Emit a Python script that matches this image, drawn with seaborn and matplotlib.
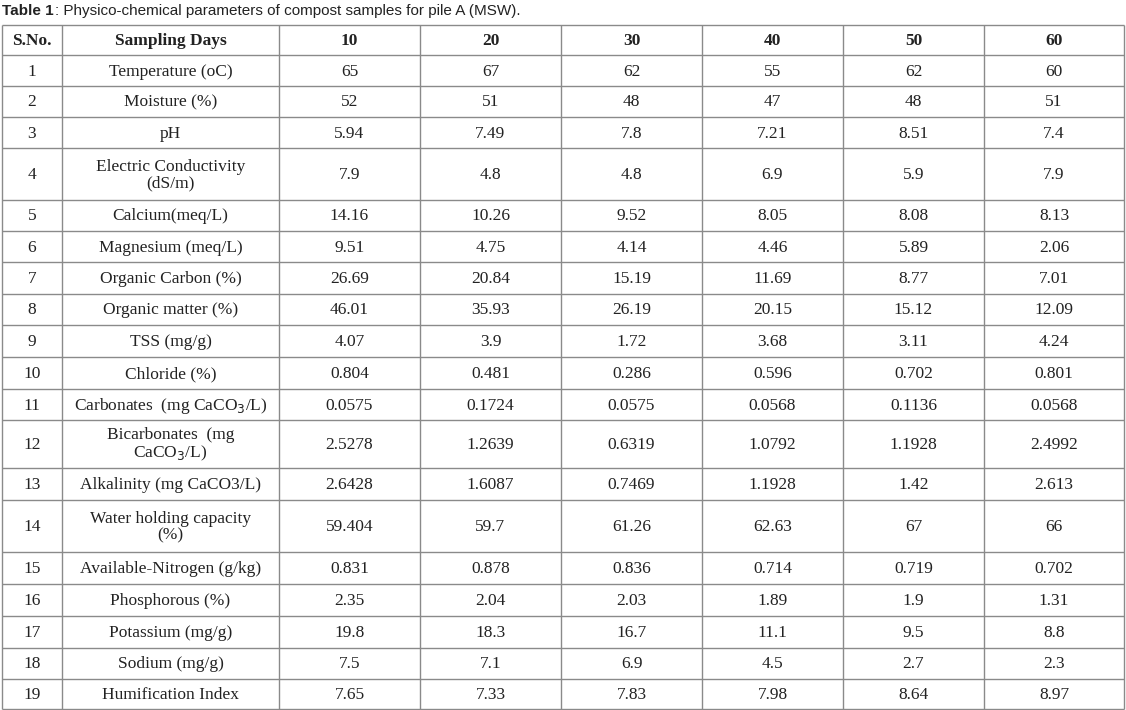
import matplotlib
matplotlib.use("Agg")
import matplotlib.pyplot as plt
import seaborn as sns

sns.set_theme(style="white")
plt.rcParams['font.family'] = ['Liberation Serif', 'DejaVu Serif']

days = ["10", "20", "30", "40", "50", "60"]
params = ["Temperature (oC)", "Moisture (%)", "pH", "Electric Conductivity\n(dS/m)",
          "Calcium(meq/L)", "Magnesium (meq/L)", "Organic Carbon (%)", "Organic matter (%)",
          "TSS (mg/g)", "Chloride (%)", "Carbonates  (mg CaCO$_3$/L)",
          "Bicarbonates  (mg\nCaCO$_3$/L)", "Alkalinity (mg CaCO3/L)",
          "Water holding capacity\n(%)", "Available-Nitrogen (g/kg)", "Phosphorous (%)",
          "Potassium (mg/g)", "Sodium (mg/g)", "Humification Index"]
values = [
    ["65", "67", "62", "55", "62", "60"],
    ["52", "51", "48", "47", "48", "51"],
    ["5.94", "7.49", "7.8", "7.21", "8.51", "7.4"],
    ["7.9", "4.8", "4.8", "6.9", "5.9", "7.9"],
    ["14.16", "10.26", "9.52", "8.05", "8.08", "8.13"],
    ["9.51", "4.75", "4.14", "4.46", "5.89", "2.06"],
    ["26.69", "20.84", "15.19", "11.69", "8.77", "7.01"],
    ["46.01", "35.93", "26.19", "20.15", "15.12", "12.09"],
    ["4.07", "3.9", "1.72", "3.68", "3.11", "4.24"],
    ["0.804", "0.481", "0.286", "0.596", "0.702", "0.801"],
    ["0.0575", "0.1724", "0.0575", "0.0568", "0.1136", "0.0568"],
    ["2.5278", "1.2639", "0.6319", "1.0792", "1.1928", "2.4992"],
    ["2.6428", "1.6087", "0.7469", "1.1928", "1.42", "2.613"],
    ["59.404", "59.7", "61.26", "62.63", "67", "66"],
    ["0.831", "0.878", "0.836", "0.714", "0.719", "0.702"],
    ["2.35", "2.04", "2.03", "1.89", "1.9", "1.31"],
    ["19.8", "18.3", "16.7", "11.1", "9.5", "8.8"],
    ["7.5", "7.1", "6.9", "4.5", "2.7", "2.3"],
    ["7.65", "7.33", "7.83", "7.98", "8.64", "8.97"],
]

W, H = 1126, 710
fig = plt.figure(figsize=(W / 100, H / 100), dpi=100)
ax = fig.add_axes([0, 0, 1, 1])
ax.set_xlim(0, W)
ax.set_ylim(H, 0)
ax.axis("off")

col_x = [2, 62, 279, 420, 561, 702, 843, 984, 1124]
row_y = [25, 55, 86, 117, 148, 200, 231, 262, 294, 325, 357, 389, 420, 468, 500, 552,
         584, 616, 648, 679, 709]

lc = "#8a8a8a"
for x in col_x:
    ax.vlines(x, row_y[0], row_y[-1], color=lc, lw=1)
for y in row_y:
    ax.hlines(y, col_x[0], col_x[-1], color=lc, lw=1)

fs = 12.5
header = ["S.No.", "Sampling Days"] + days
for j, h in enumerate(header):
    ax.text((col_x[j] + col_x[j + 1]) / 2, (row_y[0] + row_y[1]) / 2 + 1, h,
            ha="center", va="center", fontsize=fs, fontweight="bold", color="#222222")

for i, (p, vals) in enumerate(zip(params, values)):
    yc = (row_y[i + 1] + row_y[i + 2]) / 2 + 1
    cells = [str(i + 1), p] + vals
    for j, c in enumerate(cells):
        ax.text((col_x[j] + col_x[j + 1]) / 2, yc, c, ha="center", va="center",
                fontsize=fs, color="#222222", linespacing=1.05)

ax.text(2, 11, "Table 1", ha="left", va="center", fontsize=11, fontweight="bold",
        family="Liberation Sans", color="#222222")
ax.text(55, 11, ": Physico-chemical parameters of compost samples for pile A (MSW).",
        ha="left", va="center", fontsize=11, family="Liberation Sans", color="#222222")

fig.savefig("out.png", dpi=100, facecolor="white")
